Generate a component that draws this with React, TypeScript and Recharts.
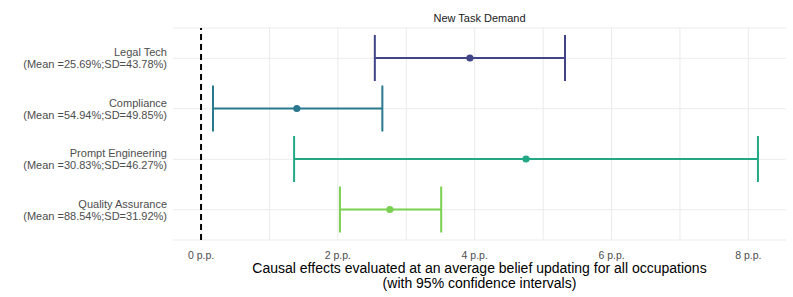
import React from 'react';
import { ComposedChart, CartesianGrid, XAxis, YAxis, Bar, ReferenceLine } from 'recharts';

const occupations = ['Legal Tech', 'Compliance', 'Prompt Engineering', 'Quality Assurance'];
const meanShares = ['25.69', '54.94', '30.83', '88.54'];
const sdShares = ['43.78', '49.85', '46.27', '31.92'];
const effects = [3.93, 1.4, 4.75, 2.76];
const lowerCI = [2.54, 0.175, 1.36, 2.03];
const upperCI = [5.32, 2.65, 8.14, 3.51];
const majorTicks = [0, 2, 4, 6, 8];
const minorTicks = [1, 3, 5, 7];
const xDomain = [-0.41, 8.55];

const colors = ['#414487', '#2A788E', '#22A884', '#7AD151'];
const FONT = '"Liberation Sans", Arial, sans-serif';

const chartData = occupations.map((name, i) => ({
  name,
  effect: effects[i],
  lo: lowerCI[i],
  hi: upperCI[i],
  range: [lowerCI[i], upperCI[i]],
  color: colors[i],
}));

interface ShapeProps {
  x: number;
  y: number;
  width: number;
  height: number;
  payload: (typeof chartData)[number];
}

// whisker + caps + point, drawn from the bar's range geometry
const ErrorBarShape = ({ x, y, width, height, payload }: ShapeProps) => {
  const left = Math.min(x, x + width);
  const right = Math.max(x, x + width);
  const cy = y + height / 2;
  const px = left + ((payload.effect - payload.lo) / (payload.hi - payload.lo)) * (right - left);
  const c = payload.color;
  return (
    <g>
      <line x1={left} x2={right} y1={cy} y2={cy} stroke={c} strokeWidth={2} />
      <line x1={left} x2={left} y1={y} y2={y + height} stroke={c} strokeWidth={2} />
      <line x1={right} x2={right} y1={y} y2={y + height} stroke={c} strokeWidth={2} />
      <circle cx={px} cy={cy} r={3.6} fill={c} />
    </g>
  );
};

const renderShape = (p: unknown) => <ErrorBarShape {...(p as ShapeProps)} />;

const OccupationTick = ({ x, y, payload }: { x: number; y: number; payload: { value: string } }) => {
  const i = occupations.indexOf(payload.value);
  return (
    <text x={x} y={y} textAnchor="end" fill="#4d4d4d" fontSize={11} fontFamily={FONT}>
      <tspan x={x} dy={-2}>{payload.value}</tspan>
      <tspan x={x} dy={12}>{`(Mean =${meanShares[i]}%;SD=${sdShares[i]}%)`}</tspan>
    </text>
  );
};

const AxisTitle = ({ viewBox }: { viewBox?: { x: number; y: number; width: number } }) => {
  if (!viewBox) return null;
  const cx = viewBox.x + viewBox.width / 2;
  return (
    <text textAnchor="middle" fill="#000" fontSize={14} fontFamily={FONT}>
      <tspan x={cx} y={viewBox.y + 33}>Causal effects evaluated at an average belief updating for all occupations</tspan>
      <tspan x={cx} y={viewBox.y + 48}>(with 95% confidence intervals)</tspan>
    </text>
  );
};

// major + minor vertical grid lines, so the grid stays under the error bars
const verticalGrid = (props: any) => {
  const all = [...majorTicks, ...minorTicks];
  const scale = props?.xAxis?.scale;
  if (typeof scale === 'function') return all.map((t) => scale(t));
  if (scale && typeof scale.map === 'function') return all.map((t) => scale.map(t));
  const { left, width } = props.offset;
  return all.map((t) => left + ((t - xDomain[0]) / (xDomain[1] - xDomain[0])) * width);
};

export default function App() {
  return (
    <div style={{ position: 'absolute', left: 0, top: 0, width: 793, height: 297, background: '#fff' }}>
      <div
        style={{
          position: 'absolute',
          top: 12,
          left: 173,
          width: 613,
          textAlign: 'center',
          fontFamily: FONT,
          fontSize: 11,
          color: '#1a1a1a',
        }}
      >
        New Task Demand
      </div>
      <ComposedChart
        width={793}
        height={297}
        layout="vertical"
        data={chartData}
        margin={{ top: 28, right: 7, bottom: 0, left: 0 }}
      >
        <CartesianGrid stroke="#ebebeb" strokeWidth={1} verticalCoordinatesGenerator={verticalGrid} />
        <XAxis
          type="number"
          domain={xDomain}
          ticks={majorTicks}
          tickFormatter={(v) => `${v} p.p.`}
          axisLine={false}
          tickLine={false}
          tickMargin={6}
          height={57}
          tick={{ fill: '#4d4d4d', fontSize: 10.5, fontFamily: FONT }}
          label={<AxisTitle />}
        />
        <YAxis
          type="category"
          dataKey="name"
          width={173}
          axisLine={false}
          tickLine={false}
          tickSize={4}
          tickMargin={2}
          padding={{ top: 5, bottom: 5 }}
          tick={OccupationTick as never}
        />
        <ReferenceLine x={0} stroke="#000" strokeWidth={2} strokeDasharray="6 4" />
        <Bar dataKey="range" barSize={46} shape={renderShape} isAnimationActive={false} />
      </ComposedChart>
    </div>
  );
}
